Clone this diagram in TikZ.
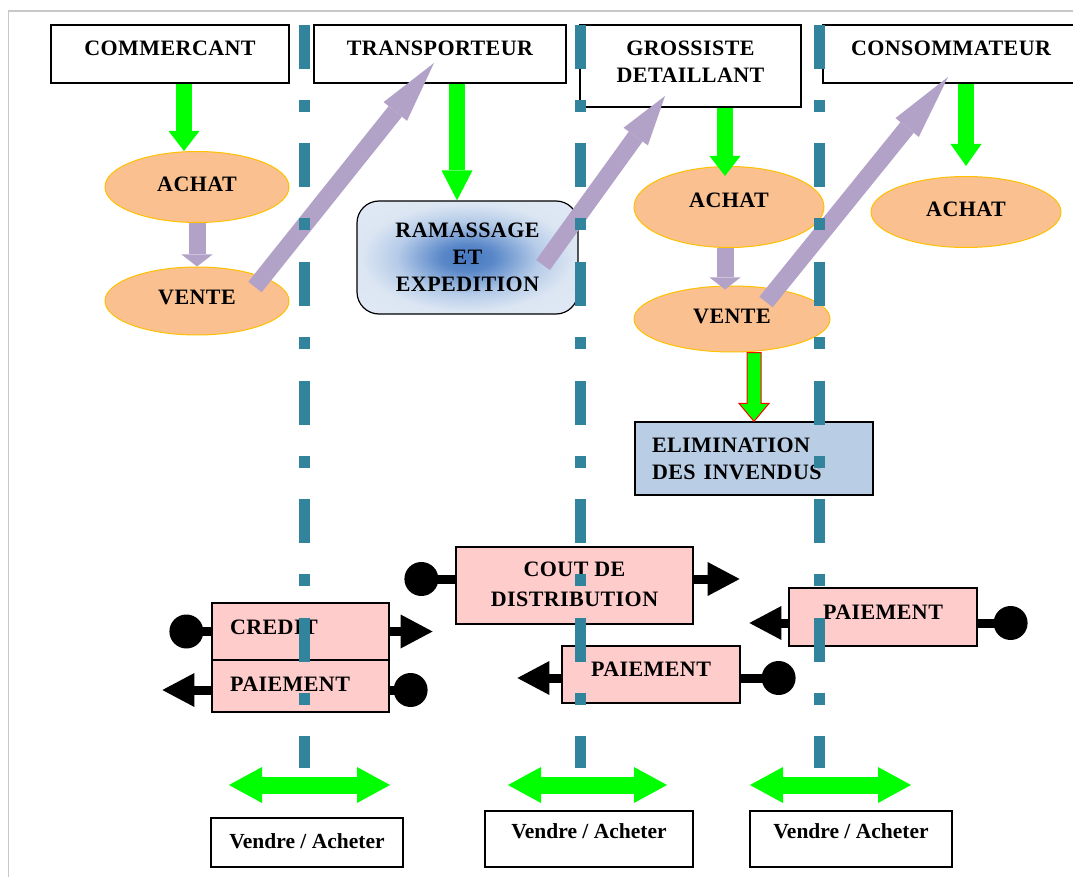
\documentclass[tikz,border=0pt]{standalone}
\usepackage{fontspec}
\setmainfont{Liberation Serif}
\newfontfamily\capsfont{Liberation Serif}[LetterSpace=2]
\usetikzlibrary{shapes.geometric,arrows.meta,calc}
\definecolor{dteal}{HTML}{31849B}
\definecolor{lgreen}{HTML}{00FF00}
\definecolor{lav}{HTML}{B3A2C7}
\definecolor{peach}{HTML}{FAC090}
\definecolor{gold}{HTML}{FFC000}
\definecolor{pinkb}{HTML}{FFCCCC}
\definecolor{elimb}{HTML}{B9CDE5}
\definecolor{ramc}{HTML}{4677C0}
\definecolor{ramd}{HTML}{5A88C9}
\definecolor{ramm}{HTML}{B5CBE8}
\definecolor{rame}{HTML}{DCE6F3}
\definecolor{ramo}{HTML}{E6EDF7}
\definecolor{framegray}{HTML}{C8C8C8}
\pgfdeclareradialshading{ramshade}{\pgfpoint{0bp}{0bp}}{color(0bp)=(ramc); color(6bp)=(ramd); color(16bp)=(ramm); color(24bp)=(rame); color(50bp)=(ramo)}
\newcommand\capf{\capsfont\bfseries\fontsize{22}{27}\selectfont}
\newcommand\vaf{\bfseries\fontsize{21.5}{24}\selectfont}
\tikzset{
  box/.style={draw, line width=1.2pt, inner sep=0pt, align=center, font=\capf},
  hdr/.style={box, fill=white},
  ell/.style={ellipse, draw=gold, line width=1pt, fill=peach, inner sep=0pt, font=\capf},
  pbox/.style={box, fill=pinkb},
  vabox/.style={draw, line width=1.3pt, inner sep=0pt, font=\vaf},
  garrow/.style={draw=lgreen, line width=16pt, -{Triangle[width=31pt,length=20pt,line width=0pt]}},
  parrow/.style={draw=lav, line width=17pt, -{Triangle[width=31pt,length=12pt,line width=0pt]}},
  darrow/.style={draw=lav, line width=17pt, -{Triangle[width=30pt,length=#1,line width=0pt]}},
  stick/.style={draw=black, line width=9pt},
  stickarrow/.style={draw=black, line width=9pt, -{Triangle[width=34pt,length=32pt,line width=0pt]}},
  dbl/.style={draw=lgreen, line width=17pt, {Triangle[width=36pt,length=33pt,line width=0pt]}-{Triangle[width=36pt,length=33pt,line width=0pt]}},
  dline/.style={draw=dteal, line width=11pt, dash pattern=on 44pt off 31pt on 12pt off 31.5pt},
}
\begin{document}
\begin{tikzpicture}[x=1pt,y=-1pt]
\useasboundingbox (0,0) rectangle (1073,877);
\clip (0,0) rectangle (1073,877);
\fill[white] (0,0) rectangle (1073,877);
\draw[framegray, line width=1.5pt] (8.5,877) -- (8.5,11) -- (1073,11);

% headers
\node[hdr, minimum width=238pt, minimum height=58pt, text depth=12pt] (COM) at (170,54) {COMMERCANT};
\node[hdr, minimum width=252pt, minimum height=58pt, text depth=12pt] (TRA) at (440,54) {TRANSPORTEUR};
\node[hdr, minimum width=221pt, minimum height=82pt, text depth=9pt] (GRO) at (690.5,66) {GROSSISTE\\DETAILLANT};
\node[hdr, minimum width=256pt, minimum height=58pt, text depth=12pt] (CON) at (951,54) {CONSOMMATEUR};

% ramassage
\node[box, rounded corners=22pt, shading=ramshade, minimum width=221pt, minimum height=113pt] (RAM) at (467.5,257.5) {RAMASSAGE\\ET\\EXPEDITION};

% ellipses
\node[ell, minimum width=184pt, minimum height=71pt, text depth=6pt] (ACH1) at (197,187) {ACHAT};
\node[ell, minimum width=184pt, minimum height=68pt, text depth=7pt] (VEN1) at (197,301) {VENTE};
\node[ell, minimum width=190pt, minimum height=81pt, text depth=14pt] (ACH2) at (729,207) {ACHAT};
\node[ell, minimum width=196pt, minimum height=66pt, text depth=6pt] (VEN2) at (732,319) {VENTE};
\node[ell, minimum width=190pt, minimum height=71pt, text depth=6pt] (ACH3) at (966,212) {ACHAT};

% elimination
\node[box, fill=elimb, minimum height=73pt, inner xsep=17pt, text width=204pt, align=left] (ELIM) at (754,458.5) {ELIMINATION\\DES\hspace{8pt}INVENDUS};

% green arrows
\draw[garrow] ($(COM.south)+(14,0)$) -- ($(ACH1.north)+(-13,0)$);
\draw[garrow, -{Triangle[width=31pt,length=30pt,line width=0pt]}] ($(TRA.south)+(17,0)$) -- ($(RAM.north)+(-10.5,0)$);
\draw[garrow] ($(GRO.south)+(34.5,0)$) -- ($(ACH2.north)+(-4,10)$);
\draw[garrow, -{Triangle[width=31pt,length=22pt,line width=0pt]}] ($(CON.south)+(15,0)$) -- ($(ACH3.north)+(0,-10)$);

% purple arrows
\draw[parrow] (ACH1.south) -- (VEN1.north);
\draw[parrow] ($(ACH2.south)+(-4,0)$) -- ($(VEN2.north)+(-7,4)$);
\draw[darrow=62pt] ($(VEN1.center)+(58,-14)$) -- ($(TRA.center)+(-6,9)$);
\draw[darrow=50pt] ($(RAM.center)+(75.5,7.5)$) -- ($(GRO.center)+(-25.5,30)$);
\draw[darrow=65pt] ($(VEN2.center)+(34,-17)$) -- ($(CON.center)+(-3,23)$);

% red-outlined arrow
\coordinate (ra) at (VEN2.south -| ELIM.north);
\coordinate (rb) at (ELIM.north);
\filldraw[fill=lgreen, draw=red, line width=1pt, line join=miter]
  ($(ra)+(-7,0)$) -- ($(ra)+(7,0)$) -- ($(rb)+(7,-18)$) -- ($(rb)+(15,-18)$) -- (rb)
  -- ($(rb)+(-15,-18)$) -- ($(rb)+(-7,-18)$) -- cycle;

% lower boxes
\node[pbox, minimum height=77pt, minimum width=237pt, text depth=2pt] (COUT) at (574.5,585.5) {COUT DE\\[3pt]DISTRIBUTION};
\node[pbox, minimum height=57pt, inner xsep=18pt, text width=141pt, align=left, text depth=8pt] (CRED) at (300.5,631.5) {CREDIT};
\node[pbox, minimum height=52pt, inner xsep=18pt, text width=141pt, align=left, text depth=4pt] (PAI1) at (300.5,686) {PAIEMENT};
\node[pbox, minimum height=57pt, minimum width=178pt, text depth=10pt] (PAI2) at (651,674.5) {PAIEMENT};
\node[pbox, minimum height=58pt, minimum width=188pt, text depth=10pt] (PAI3) at (883,617) {PAIEMENT};

% ball / arrow connectors
\coordinate (credb) at ($(CRED.west)+(-25,0)$);
\coordinate (credt) at ($(CRED.east)+(43,0)$);
\draw[stick] (CRED.west) -- (credb);
\fill (credb) circle[radius=17pt];
\draw[stickarrow] (CRED.east) -- (credt);

\coordinate (p1b) at ($([yshift=-4pt]PAI1.east)+(21,0)$);
\coordinate (p1t) at ($([yshift=-4pt]PAI1.west)+(-49,0)$);
\draw[stick] ([yshift=-4pt]PAI1.east) -- (p1b);
\fill (p1b) circle[radius=17pt];
\draw[stickarrow] ([yshift=-4pt]PAI1.west) -- (p1t);

\coordinate (cb) at ($([yshift=6.5pt]COUT.west)+(-34,0)$);
\coordinate (ct) at ($([yshift=6.5pt]COUT.east)+(46,0)$);
\draw[stick] ([yshift=6.5pt]COUT.west) -- (cb);
\fill (cb) circle[radius=17pt];
\draw[stickarrow] ([yshift=6.5pt]COUT.east) -- (ct);

\coordinate (p3b) at ($([yshift=-6pt]PAI3.east)+(33,0)$);
\coordinate (p3t) at ($([yshift=-6pt]PAI3.west)+(-39,0)$);
\draw[stick] ([yshift=-6pt]PAI3.east) -- (p3b);
\fill (p3b) circle[radius=17pt];
\draw[stickarrow] ([yshift=-6pt]PAI3.west) -- (p3t);

\coordinate (p2b) at ($([yshift=-3.5pt]PAI2.east)+(38,0)$);
\coordinate (p2t) at ($([yshift=-3.5pt]PAI2.west)+(-44,0)$);
\draw[stick] ([yshift=-3.5pt]PAI2.east) -- (p2b);
\fill (p2b) circle[radius=17pt];
\draw[stickarrow] ([yshift=-3.5pt]PAI2.west) -- (p2t);

% double arrows
\coordinate (d1l) at (229,785); \coordinate (d1r) at (390,785);
\coordinate (d2l) at (508,785); \coordinate (d2r) at (667,785);
\coordinate (d3l) at (750,785); \coordinate (d3r) at (911,785);
\draw[dbl] (d1l) -- (d1r);
\draw[dbl] (d2l) -- (d2r);
\draw[dbl] (d3l) -- (d3r);

% vendre / acheter boxes
\node[vabox, minimum width=192pt, minimum height=49pt, text depth=2pt] (VA1) at (307,842.5) {Vendre / Acheter};
\node[vabox, minimum width=208pt, minimum height=56pt, text depth=16pt] (VA2) at (589,839) {Vendre / Acheter};
\node[vabox, minimum width=202pt, minimum height=56pt, text depth=16pt] (VA3) at (851,839) {Vendre / Acheter};

% dash-dot separators
\coordinate (s1t) at (304,25); \coordinate (s1b) at (304,768);
\coordinate (s2t) at (580,25); \coordinate (s2b) at (580,768);
\coordinate (s3t) at (819,25); \coordinate (s3b) at (819,768);
\draw[dline] (s1t) -- (s1b);
\draw[dline] (s2t) -- (s2b);
\draw[dline] (s3t) -- (s3b);
\end{tikzpicture}
\end{document}
